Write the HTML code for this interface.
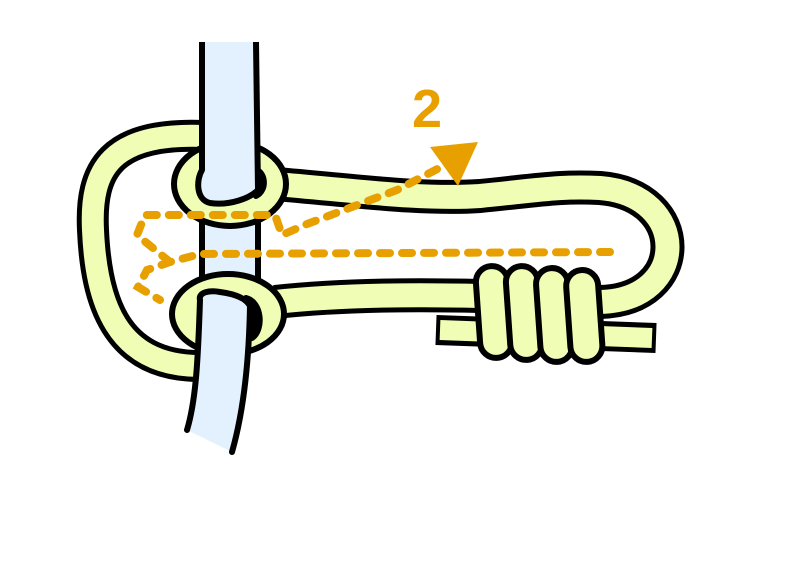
<!DOCTYPE html>
<html><head><style>html,body{margin:0;padding:0;background:#fff}svg{display:block}</style></head><body>
<svg width="800" height="585" viewBox="0 0 800 585" xmlns="http://www.w3.org/2000/svg">
<!-- middle pole segment -->
<rect x="202" y="200" width="56" height="100" fill="#e3f1fe"/>
<path d="M202,200 L202,300 M258,200 L258,300" stroke="#000" stroke-width="6"/>
<g fill="none" stroke-linejoin="round">
<!-- outer left loop -->
<path d="M205,136 C110,132 90,170 93,230 C96,300 115,366 200,366" stroke="#000" stroke-width="32"/>
<path d="M205,136 C110,132 90,170 93,230 C96,300 115,366 200,366" stroke="#f0fdb4" stroke-width="22"/>
<!-- long right loop -->
<path d="M275,184 C350,190 420,200 480,196 C540,190 560,186 600,188 C690,195 690,300 600,302 L480,296 C400,294 330,296 275,302" stroke="#000" stroke-width="34"/>
<path d="M275,184 C350,190 420,200 480,196 C540,190 560,186 600,188 C690,195 690,300 600,302 L480,296 C400,294 330,296 275,302" stroke="#f0fdb4" stroke-width="24"/>
<!-- tail -->
<path d="M436,330 L656,338" stroke="#000" stroke-width="30"/>
<path d="M440,330 L652,338" stroke="#f0fdb4" stroke-width="20"/>
</g>
<!-- upper collar -->
<ellipse cx="230" cy="184" rx="56" ry="42" fill="#f0fdb4" stroke="#000" stroke-width="6"/>
<path d="M252,168 C266,170 268,190 256,196 Z" fill="#000" stroke="#000" stroke-width="6" stroke-linejoin="round"/>
<path d="M202,42 L202,170 C196,180 196,200 210,203 C230,206 250,198 258,190 L256,42" fill="#e3f1fe" stroke="#000" stroke-width="6" stroke-linejoin="round"/>
<!-- dashed path -->
<g fill="none" stroke="#e8a000" stroke-width="8" stroke-linecap="round" stroke-dasharray="10,12">
<path d="M610,252 L200,254 L170,262 L147,270 L138,287 L160,300"/>
<path d="M170,262 L137,235 L145,215 L275,215 L282,235 L307,224 L397,190 L445,165"/>
</g>
<polygon points="430,147 478,142 458,186" fill="#e8a000"/>
<text x="412" y="127" font-family="Liberation Sans, sans-serif" font-weight="bold" font-size="54" fill="#e8a000">2</text>
<!-- lower collar -->
<ellipse cx="228" cy="314" rx="56" ry="40" fill="#f0fdb4" stroke="#000" stroke-width="6"/>
<path d="M246,298 C262,302 264,330 252,338 Z" fill="#000" stroke="#000" stroke-width="6" stroke-linejoin="round"/>
<path d="M200,300 C198,292 210,290 220,292 C235,294 246,298 250,306 C249,360 244,410 232,452 L187,430 C196,400 198,360 200,300 Z" fill="#e3f1fe"/>
<path d="M187,430 C196,400 198,360 200,300 C198,292 210,290 220,292 C235,294 246,298 250,306 C249,360 244,410 232,452" fill="none" stroke="#000" stroke-width="6" stroke-linecap="round" stroke-linejoin="round"/>
<!-- coils -->
<g fill="#f0fdb4" stroke="#000" stroke-width="6">
<rect x="478" y="266" width="32" height="92" rx="16" transform="rotate(-4 494 312)"/>
<rect x="508" y="266" width="32" height="94" rx="16" transform="rotate(-4 524 312)"/>
<rect x="538" y="268" width="32" height="94" rx="16" transform="rotate(-4 554 312)"/>
<rect x="568" y="270" width="32" height="92" rx="16" transform="rotate(-4 584 312)"/>
</g>
</svg>
</body></html>
